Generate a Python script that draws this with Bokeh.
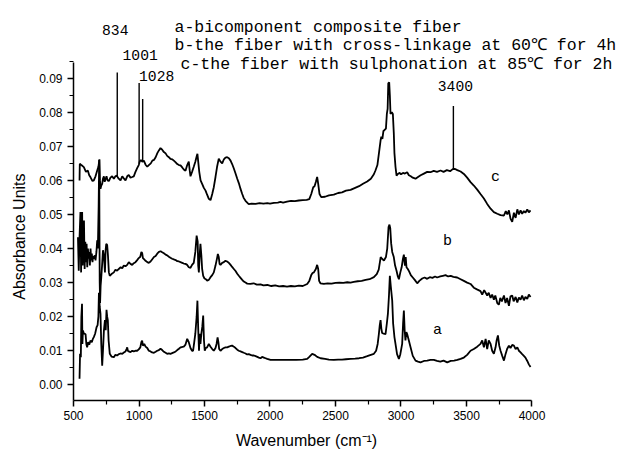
from bokeh.plotting import figure
from bokeh.models import Range1d, FixedTicker, PrintfTickFormatter, Label, LinearAxis, Grid
from bokeh.embed import file_html
from bokeh.resources import INLINE
import numpy as np

# ---- FTIR spectra (wavenumber in cm-1, absorbance) ----
wn_c = [546, 548, 560, 579, 595, 609, 620, 630, 645, 655, 668, 681, 690, 698, 702, 706, 712, 719, 725, 732,
        738, 744, 752, 760, 770, 782, 795, 808, 820, 830, 845, 859, 872, 884, 897, 910, 922, 935, 948, 960,
        973, 986, 998, 1005, 1015, 1025, 1037, 1050, 1063, 1075, 1090, 1102, 1114, 1127, 1140, 1152, 1164,
        1177, 1190, 1202, 1215, 1228, 1240, 1253, 1266, 1280, 1292, 1305, 1317, 1330, 1342, 1355, 1368, 1380,
        1387, 1393, 1405, 1418, 1430, 1440, 1446, 1452, 1460, 1470, 1482, 1495, 1508, 1520, 1533, 1546, 1559,
        1571, 1584, 1596, 1609, 1622, 1635, 1648, 1660, 1673, 1686, 1699, 1711, 1724, 1737, 1750, 1762, 1775,
        1788, 1800, 1813, 1826, 1838, 1860, 1890, 1920, 1950, 1980, 2000, 2030, 2060, 2080, 2100, 2130, 2160,
        2190, 2220, 2250, 2280, 2300, 2315, 2330, 2340, 2350, 2360, 2368, 2378, 2391, 2420, 2450, 2487, 2520,
        2550, 2580, 2615, 2650, 2680, 2710, 2742, 2770, 2793, 2805, 2820, 2831, 2844, 2850, 2858, 2866, 2875,
        2885, 2892, 2898, 2903, 2910, 2915, 2920, 2930, 2938, 2945, 2950, 2958, 2966, 2976, 2990, 3000, 3015,
        3030, 3047, 3060, 3075, 3090, 3111, 3130, 3150, 3175, 3200, 3225, 3250, 3275, 3302, 3325, 3350, 3375,
        3395, 3409, 3430, 3455, 3480, 3505, 3531, 3556, 3582, 3607, 3633, 3658, 3684, 3709, 3735, 3760, 3786,
        3800, 3812, 3824, 3836, 3849, 3862, 3875, 3888, 3900, 3913, 3925, 3938, 3950, 3964, 3976, 3989]
ab_c = [0.0600, 0.0649, 0.0645, 0.0639, 0.0625, 0.0629, 0.0615, 0.0609, 0.0598, 0.0600, 0.0612, 0.0629, 0.0640,
        0.0662, 0.0600, 0.0575, 0.0585, 0.0590, 0.0605, 0.0612, 0.0596, 0.0603, 0.0612, 0.0600, 0.0598, 0.0608,
        0.0612, 0.0605, 0.0612, 0.0614, 0.0605, 0.0600, 0.0612, 0.0606, 0.0600, 0.0612, 0.0616, 0.0608, 0.0610,
        0.0612, 0.0625, 0.0636, 0.0645, 0.0655, 0.0660, 0.0655, 0.0658, 0.0646, 0.0640, 0.0645, 0.0650, 0.0658,
        0.0660, 0.0668, 0.0680, 0.0688, 0.0695, 0.0690, 0.0683, 0.0680, 0.0672, 0.0668, 0.0663, 0.0662, 0.0658,
        0.0653, 0.0648, 0.0645, 0.0644, 0.0638, 0.0632, 0.0628, 0.0645, 0.0655, 0.0630, 0.0612, 0.0625, 0.0640,
        0.0655, 0.0670, 0.0678, 0.0655, 0.0625, 0.0600, 0.0590, 0.0578, 0.0570, 0.0558, 0.0546, 0.0542, 0.0560,
        0.0580, 0.0610, 0.0640, 0.0664, 0.0655, 0.0650, 0.0662, 0.0667, 0.0668, 0.0665, 0.0658, 0.0648, 0.0635,
        0.0620, 0.0605, 0.0592, 0.0575, 0.0560, 0.0548, 0.0540, 0.0535, 0.0530, 0.0532, 0.0531, 0.0533, 0.0532,
        0.0533, 0.0532, 0.0534, 0.0535, 0.0537, 0.0535, 0.0538, 0.0540, 0.0539, 0.0541, 0.0542, 0.0543, 0.0545,
        0.0560, 0.0580, 0.0583, 0.0595, 0.0610, 0.0590, 0.0560, 0.0551, 0.0552, 0.0556, 0.0558, 0.0563, 0.0565,
        0.0570, 0.0572, 0.0578, 0.0583, 0.0590, 0.0597, 0.0605, 0.0618, 0.0629, 0.0645, 0.0678, 0.0717, 0.0728,
        0.0722, 0.0745, 0.0748, 0.0752, 0.0795, 0.0810, 0.0885, 0.0888, 0.0850, 0.0795, 0.0800, 0.0795, 0.0740,
        0.0680, 0.0640, 0.0614, 0.0619, 0.0622, 0.0618, 0.0622, 0.0620, 0.0624, 0.0615, 0.0612, 0.0608, 0.0605,
        0.0610, 0.0615, 0.0620, 0.0625, 0.0624, 0.0628, 0.0625, 0.0629, 0.0625, 0.0630, 0.0627, 0.0633, 0.0634,
        0.0630, 0.0626, 0.0619, 0.0608, 0.0595, 0.0585, 0.0573, 0.0560, 0.0547, 0.0531, 0.0517, 0.0507, 0.0502,
        0.0498, 0.0497, 0.0510, 0.0500, 0.0512, 0.0488, 0.0478, 0.0505, 0.0490, 0.0515, 0.0500, 0.0512, 0.0502,
        0.0510, 0.0505, 0.0515, 0.0506, 0.0512]

wn_b = [534, 540, 546, 553, 558, 562, 566, 570, 575, 580, 585, 590, 595, 600, 605, 610, 615, 620, 625, 630, 635,
        640, 645, 650, 655, 662, 668, 675, 681, 686, 692, 696, 700, 703, 707, 711, 718, 725, 732, 740, 745, 750,
        757, 763, 770, 777, 790, 808, 820, 833, 846, 860, 872, 884, 897, 910, 922, 935, 948, 960, 973, 986, 998,
        1010, 1018, 1024, 1030, 1040, 1050, 1063, 1075, 1088, 1100, 1114, 1127, 1139, 1152, 1165, 1177, 1190,
        1203, 1215, 1228, 1240, 1253, 1266, 1280, 1292, 1305, 1317, 1330, 1342, 1355, 1368, 1380, 1393, 1405,
        1418, 1430, 1440, 1448, 1452, 1457, 1463, 1469, 1476, 1482, 1490, 1500, 1510, 1520, 1533, 1546, 1559,
        1571, 1584, 1596, 1602, 1609, 1615, 1622, 1635, 1648, 1660, 1673, 1686, 1699, 1711, 1724, 1737, 1750,
        1762, 1775, 1788, 1800, 1813, 1826, 1850, 1875, 1900, 1928, 1950, 1980, 2010, 2040, 2070, 2100, 2130,
        2160, 2190, 2220, 2250, 2284, 2300, 2315, 2325, 2335, 2350, 2360, 2368, 2375, 2385, 2411, 2440, 2470,
        2500, 2530, 2560, 2590, 2615, 2640, 2670, 2700, 2730, 2760, 2793, 2815, 2830, 2845, 2855, 2870, 2885,
        2895, 2905, 2912, 2918, 2925, 2933, 2945, 2955, 2966, 2976, 2984, 2995, 3005, 3015, 3022, 3030, 3036,
        3042, 3052, 3062, 3075, 3090, 3105, 3124, 3140, 3162, 3180, 3200, 3220, 3240, 3260, 3276, 3300, 3320,
        3340, 3360, 3380, 3400, 3429, 3455, 3480, 3505, 3531, 3556, 3580, 3607, 3620, 3635, 3658, 3670, 3684,
        3696, 3709, 3720, 3735, 3747, 3758, 3770, 3786, 3798, 3810, 3824, 3836, 3849, 3860, 3875, 3888, 3900,
        3913, 3925, 3938, 3950, 3964, 3976, 3989]
ab_b = [0.0433, 0.0335, 0.0433, 0.0507, 0.0330, 0.0470, 0.0507, 0.0350, 0.0440, 0.0482, 0.0340, 0.0420, 0.0360,
        0.0414, 0.0345, 0.0400, 0.0370, 0.0390, 0.0350, 0.0400, 0.0365, 0.0385, 0.0360, 0.0378, 0.0370, 0.0380,
        0.0365, 0.0390, 0.0424, 0.0400, 0.0526, 0.0660, 0.0300, 0.0240, 0.0290, 0.0310, 0.0350, 0.0395, 0.0380,
        0.0330, 0.0395, 0.0414, 0.0410, 0.0380, 0.0330, 0.0320, 0.0325, 0.0330, 0.0338, 0.0335, 0.0340, 0.0345,
        0.0342, 0.0350, 0.0348, 0.0352, 0.0360, 0.0355, 0.0352, 0.0357, 0.0360, 0.0366, 0.0372, 0.0376, 0.0390,
        0.0387, 0.0372, 0.0368, 0.0364, 0.0360, 0.0358, 0.0362, 0.0368, 0.0375, 0.0378, 0.0385, 0.0390, 0.0392,
        0.0389, 0.0386, 0.0382, 0.0380, 0.0376, 0.0373, 0.0370, 0.0368, 0.0366, 0.0363, 0.0362, 0.0360, 0.0358,
        0.0356, 0.0355, 0.0352, 0.0345, 0.0343, 0.0352, 0.0358, 0.0390, 0.0438, 0.0420, 0.0350, 0.0330, 0.0380,
        0.0414, 0.0380, 0.0340, 0.0320, 0.0312, 0.0310, 0.0306, 0.0308, 0.0316, 0.0322, 0.0330, 0.0350, 0.0372,
        0.0384, 0.0375, 0.0355, 0.0352, 0.0358, 0.0360, 0.0364, 0.0362, 0.0358, 0.0352, 0.0346, 0.0340, 0.0334,
        0.0326, 0.0320, 0.0314, 0.0308, 0.0303, 0.0300, 0.0297, 0.0296, 0.0298, 0.0294, 0.0295, 0.0292, 0.0293,
        0.0290, 0.0292, 0.0289, 0.0290, 0.0288, 0.0290, 0.0289, 0.0291, 0.0290, 0.0296, 0.0305, 0.0322, 0.0328,
        0.0330, 0.0340, 0.0352, 0.0340, 0.0305, 0.0298, 0.0296, 0.0298, 0.0297, 0.0299, 0.0300, 0.0299, 0.0301,
        0.0300, 0.0302, 0.0304, 0.0305, 0.0308, 0.0310, 0.0316, 0.0325, 0.0338, 0.0375, 0.0370, 0.0365, 0.0375,
        0.0400, 0.0463, 0.0470, 0.0460, 0.0415, 0.0390, 0.0375, 0.0350, 0.0335, 0.0318, 0.0310, 0.0330, 0.0345,
        0.0370, 0.0382, 0.0350, 0.0375, 0.0345, 0.0340, 0.0333, 0.0322, 0.0315, 0.0308, 0.0298, 0.0305, 0.0312,
        0.0315, 0.0311, 0.0316, 0.0314, 0.0318, 0.0315, 0.0318, 0.0320, 0.0322, 0.0318, 0.0320, 0.0317, 0.0315,
        0.0310, 0.0305, 0.0300, 0.0296, 0.0285, 0.0280, 0.0275, 0.0265, 0.0278, 0.0262, 0.0270, 0.0255, 0.0265,
        0.0250, 0.0262, 0.0240, 0.0235, 0.0255, 0.0245, 0.0262, 0.0240, 0.0255, 0.0232, 0.0260, 0.0262, 0.0245,
        0.0258, 0.0242, 0.0256, 0.0250, 0.0262, 0.0248, 0.0258, 0.0252, 0.0265, 0.0258]

wn_a = [546, 550, 556, 560, 565, 568, 572, 580, 592, 598, 604, 612, 620, 630, 640, 648, 655, 665, 676, 684, 690,
        694, 700, 706, 712, 719, 725, 732, 740, 746, 752, 757, 762, 768, 777, 790, 808, 820, 833, 846, 859, 872,
        884, 897, 905, 910, 915, 922, 935, 948, 960, 973, 986, 998, 1010, 1018, 1024, 1030, 1040, 1050, 1063,
        1075, 1088, 1100, 1114, 1127, 1139, 1152, 1164, 1177, 1190, 1203, 1215, 1228, 1240, 1253, 1266, 1280,
        1292, 1305, 1317, 1330, 1342, 1355, 1368, 1380, 1393, 1405, 1413, 1420, 1430, 1440, 1446, 1452, 1458,
        1464, 1469, 1476, 1483, 1490, 1496, 1502, 1510, 1520, 1533, 1546, 1559, 1571, 1584, 1592, 1600, 1606,
        1612, 1622, 1635, 1648, 1660, 1673, 1686, 1699, 1711, 1724, 1737, 1750, 1762, 1775, 1788, 1800, 1813,
        1826, 1838, 1851, 1864, 1877, 1890, 1903, 1915, 1928, 1940, 1953, 1966, 1979, 2004, 2050, 2100, 2150,
        2200, 2250, 2284, 2300, 2322, 2340, 2360, 2386, 2420, 2450, 2487, 2520, 2550, 2580, 2615, 2650, 2680,
        2710, 2742, 2770, 2793, 2810, 2822, 2831, 2838, 2844, 2850, 2856, 2868, 2882, 2892, 2900, 2908, 2915,
        2922, 2933, 2940, 2950, 2958, 2970, 2984, 2995, 3009, 3016, 3022, 3028, 3034, 3041, 3047, 3060, 3073,
        3090, 3111, 3130, 3149, 3175, 3200, 3225, 3251, 3275, 3300, 3325, 3353, 3380, 3405, 3430, 3455, 3480,
        3505, 3531, 3556, 3582, 3607, 3620, 3633, 3646, 3658, 3670, 3684, 3696, 3709, 3722, 3730, 3740, 3750,
        3760, 3773, 3786, 3798, 3810, 3824, 3836, 3849, 3862, 3875, 3888, 3900, 3913, 3925, 3938, 3950, 3964,
        3976, 3989]
ab_a = [0.0018, 0.0091, 0.0081, 0.0200, 0.0238, 0.0120, 0.0159, 0.0150, 0.0149, 0.0120, 0.0110, 0.0125, 0.0118,
        0.0130, 0.0125, 0.0135, 0.0140, 0.0150, 0.0169, 0.0175, 0.0200, 0.0270, 0.0230, 0.0208, 0.0120, 0.0056,
        0.0100, 0.0159, 0.0190, 0.0160, 0.0220, 0.0200, 0.0190, 0.0130, 0.0091, 0.0083, 0.0081, 0.0088, 0.0086,
        0.0090, 0.0092, 0.0091, 0.0095, 0.0098, 0.0105, 0.0110, 0.0100, 0.0098, 0.0096, 0.0100, 0.0098, 0.0100,
        0.0100, 0.0104, 0.0110, 0.0125, 0.0130, 0.0115, 0.0120, 0.0112, 0.0108, 0.0100, 0.0098, 0.0095, 0.0094,
        0.0097, 0.0100, 0.0102, 0.0106, 0.0102, 0.0097, 0.0094, 0.0091, 0.0092, 0.0091, 0.0093, 0.0095, 0.0098,
        0.0102, 0.0106, 0.0110, 0.0111, 0.0112, 0.0118, 0.0135, 0.0125, 0.0108, 0.0100, 0.0100, 0.0120, 0.0150,
        0.0200, 0.0247, 0.0165, 0.0100, 0.0150, 0.0120, 0.0150, 0.0170, 0.0203, 0.0130, 0.0100, 0.0108, 0.0110,
        0.0120, 0.0112, 0.0105, 0.0100, 0.0108, 0.0120, 0.0139, 0.0125, 0.0105, 0.0100, 0.0105, 0.0108, 0.0110,
        0.0110, 0.0112, 0.0114, 0.0115, 0.0112, 0.0108, 0.0103, 0.0100, 0.0098, 0.0096, 0.0094, 0.0092, 0.0089,
        0.0090, 0.0088, 0.0086, 0.0086, 0.0084, 0.0082, 0.0080, 0.0078, 0.0082, 0.0080, 0.0078, 0.0076, 0.0073,
        0.0073, 0.0073, 0.0073, 0.0073, 0.0074, 0.0076, 0.0082, 0.0091, 0.0088, 0.0082, 0.0078, 0.0076, 0.0074,
        0.0073, 0.0074, 0.0074, 0.0075, 0.0076, 0.0077, 0.0078, 0.0080, 0.0084, 0.0088, 0.0091, 0.0100, 0.0120,
        0.0149, 0.0175, 0.0190, 0.0165, 0.0152, 0.0150, 0.0149, 0.0180, 0.0208, 0.0260, 0.0320, 0.0290, 0.0247,
        0.0180, 0.0140, 0.0120, 0.0090, 0.0076, 0.0090, 0.0120, 0.0180, 0.0218, 0.0160, 0.0130, 0.0155, 0.0149,
        0.0130, 0.0110, 0.0085, 0.0071, 0.0068, 0.0066, 0.0070, 0.0071, 0.0073, 0.0073, 0.0070, 0.0068, 0.0071,
        0.0066, 0.0070, 0.0071, 0.0073, 0.0076, 0.0080, 0.0088, 0.0100, 0.0105, 0.0112, 0.0120, 0.0130, 0.0110,
        0.0135, 0.0105, 0.0130, 0.0120, 0.0100, 0.0091, 0.0110, 0.0130, 0.0145, 0.0115, 0.0100, 0.0085, 0.0071,
        0.0090, 0.0105, 0.0115, 0.0108, 0.0117, 0.0115, 0.0105, 0.0110, 0.0100, 0.0095, 0.0090, 0.0085, 0.0080,
        0.0070, 0.0060, 0.0052]

# marked bands on spectrum c and the heights of their marker lines
peak_wn = [834, 1001, 1028, 3400]
peak_top = [0.0917, 0.0886, 0.0839, 0.0818]

legend_lines = ["a-bicomponent composite fiber",
                "b-the fiber with cross-linkage at 60\u2103 for 4h",
                "c-the fiber with sulphonation at 85\u2103 for 2h"]

x_ticks = [500, 1000, 1500, 2000, 2500, 3000, 3500, 4000]
y_ticks = [0.00, 0.01, 0.02, 0.03, 0.04, 0.05, 0.06, 0.07, 0.08, 0.09]
x_span = (500, 4000)
y_span = (-0.0046, 0.0947)

# the frame covers the whole canvas so the annotations above the axes stay visible;
# the axes are pinned at the lower-left corner of the data span
p = figure(width=625, height=450, output_backend="svg", toolbar_location=None,
           x_range=Range1d(-57.3, 4713.9), y_range=Range1d(-0.01928, 0.1128),
           x_axis_location=None, y_axis_location=None,
           min_border_left=0, min_border_right=0, min_border_top=0, min_border_bottom=0)
p.outline_line_color = None
for g in p.select(type=Grid):
    g.visible = False
p.background_fill_color = "white"
p.border_fill_color = "white"

for wn, ab in ((wn_a, ab_a), (wn_b, ab_b), (wn_c, ab_c)):
    p.line(wn, ab, line_color="black", line_width=1.8)

# marker lines rising from spectrum c
base = np.interp(peak_wn, wn_c, ab_c)
p.segment(x0=peak_wn, y0=base, x1=peak_wn, y1=peak_top, line_color="black", line_width=1.4)

xa = LinearAxis(fixed_location=y_span[0], bounds=x_span,
                ticker=FixedTicker(ticks=x_ticks, minor_ticks=[t + 250 for t in x_ticks[:-1]]))
ya = LinearAxis(fixed_location=x_span[0], bounds=y_span,
                ticker=FixedTicker(ticks=y_ticks, minor_ticks=[t + 0.005 for t in y_ticks]),
                formatter=PrintfTickFormatter(format="%.2f"))
for ax in (xa, ya):
    ax.axis_line_width = 1.5
    ax.axis_line_color = "black"
    ax.major_tick_line_width = 1.5
    ax.minor_tick_line_width = 1.2
    ax.major_tick_out = 6
    ax.major_tick_in = 0
    ax.minor_tick_out = 4
    ax.minor_tick_in = 0
    ax.major_label_text_font = "Liberation Sans"
    ax.major_label_text_font_size = "12px"
    ax.major_label_text_color = "black"
xa.major_label_standoff = 5
ya.major_label_standoff = 5
p.add_layout(xa, "below")
p.add_layout(ya, "left")

sans = "Liberation Sans"
mono = "Liberation Mono"

# axis titles
p.add_layout(Label(x=2279, y=-0.01635, text="Wavenumber (cm\u207b\u00b9)", text_font=sans,
                   text_font_size="16px", text_align="center", text_baseline="middle",
                   text_color="black"))
p.add_layout(Label(x=88, y=0.0435, text="Absorbance Units", angle=np.pi / 2, text_font=sans,
                   text_font_size="16px", text_align="center", text_baseline="middle",
                   text_color="black"))

# band positions above the marker lines
peak_label_y = [0.1040, 0.0967, 0.0905, 0.0878]
peak_label_dx = [-2, 1, 14, 2]
for wn, yv, dx in zip(peak_wn, peak_label_y, peak_label_dx):
    p.add_layout(Label(x=wn, y=yv, x_offset=dx, text=str(wn), text_font=mono,
                       text_font_size="14.7px", text_align="center",
                       text_baseline="alphabetic", text_color="black"))

# sample descriptions
legend_x = [1271, 1271, 1317]
legend_y = [0.1049, 0.0996, 0.0940]
for t, lx, ly in zip(legend_lines, legend_x, legend_y):
    p.add_layout(Label(x=lx, y=ly, text=t, text_font=mono, text_font_size="16.5px",
                       text_align="left", text_baseline="alphabetic", text_color="black"))

# curve letters
for t, lx, ly in (("c", 3722, 0.0608), ("b", 3355, 0.0421), ("a", 3279, 0.0160)):
    p.add_layout(Label(x=lx, y=ly, text=t, text_font=mono, text_font_size="15px",
                       text_align="center", text_baseline="middle", text_color="black"))

open("out.html", "w").write(file_html(p, INLINE))
